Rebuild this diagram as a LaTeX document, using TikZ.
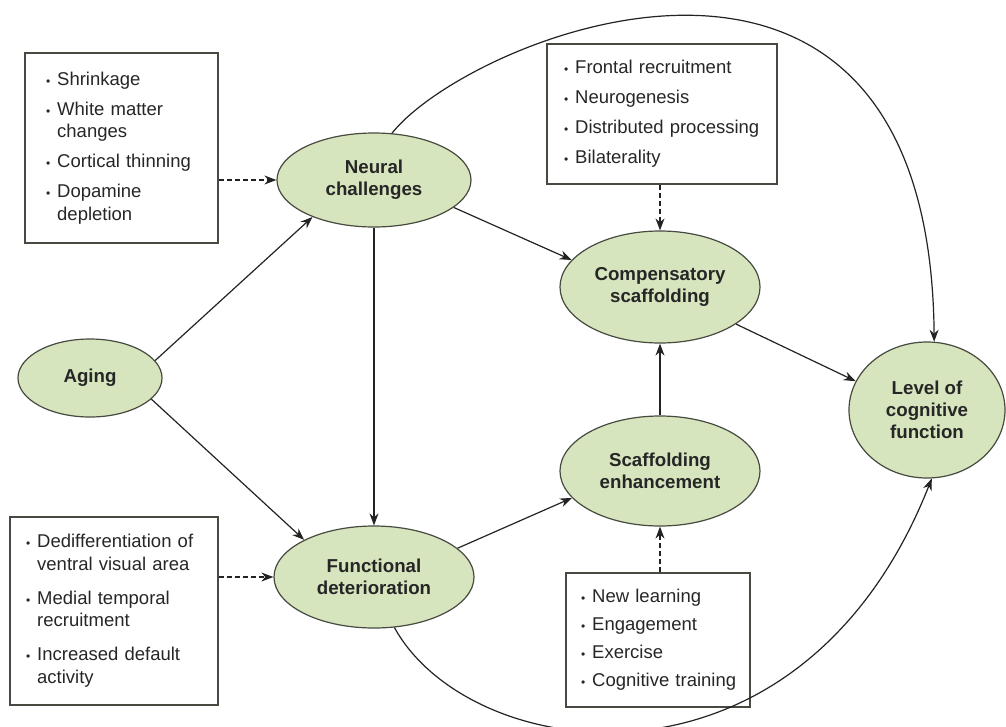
\documentclass[tikz,border=0pt]{standalone}
\usepackage{fontspec}
\setmainfont{Liberation Sans}
\usetikzlibrary{shapes.geometric,arrows.meta}
\definecolor{ellfill}{RGB}{214,229,189}
\definecolor{ellline}{RGB}{70,74,64}
\definecolor{ln}{RGB}{35,35,35}
\newcommand{\bul}{{\fontsize{12}{12}\selectfont\textbullet}}
\tikzset{
 ell/.style={ellipse, draw=ellline, fill=ellfill, line width=1.2pt, inner sep=0pt, align=center,
   font=\fontsize{18.7}{22}\selectfont\bfseries, text=black!85},
 listbox/.style={draw=ellline, line width=1.2pt, rectangle, inner ysep=0pt, align=left,
   font=\fontsize{18.5}{22.5}\selectfont, text=black!85},
 arr/.style={draw=ln, line width=1.2pt, -{Stealth[length=12pt,width=9pt]}},
 darr/.style={arr, dash pattern=on 5pt off 3pt},
}
\begin{document}
\begin{tikzpicture}[x=1pt,y=-1pt]
\useasboundingbox (0,0) rectangle (1006,726);
% ellipses
\node[ell, minimum width=144pt, minimum height=78pt] (aging) at (90,378) {Aging};
\node[ell, minimum width=194pt, minimum height=94pt] (neural) at (374,180) {Neural\\challenges};
\node[ell, minimum width=200pt, minimum height=102pt] (func) at (374,577) {Functional\\deterioration};
\node[ell, minimum width=200pt, minimum height=112pt] (comp) at (660,287) {Compensatory\\scaffolding};
\node[ell, minimum width=200pt, minimum height=110pt] (scaff) at (660,471) {Scaffolding\\enhancement};
\node[ell, minimum width=156pt, minimum height=136pt] (level) at (927,410) {Level of\\cognitive\\function};
% boxes
\node[listbox, minimum width=193pt, minimum height=190pt, inner xsep=21pt, text width=151pt] (box1) at (121.5,148)
 {\noindent\begin{tabular}{@{}l@{\hspace{7pt}}l@{}}
 \bul & Shrinkage\\[7.5pt]
 \bul & White matter\\
      & changes\\[7.5pt]
 \bul & Cortical thinning\\[7.5pt]
 \bul & Dopamine\\
      & depletion
 \end{tabular}};
\node[listbox, minimum width=230pt, minimum height=140pt, inner xsep=17pt, text width=196pt] (box2) at (662,114)
 {\noindent\begin{tabular}{@{}l@{\hspace{7pt}}l@{}}
 \bul & Frontal recruitment\\[7.5pt]
 \bul & Neurogenesis\\[7.5pt]
 \bul & Distributed processing\\[7.5pt]
 \bul & Bilaterality
 \end{tabular}};
\node[listbox, minimum width=208pt, minimum height=188pt, inner xsep=16pt, text width=176pt] (box3) at (114,611)
 {\noindent\begin{tabular}{@{}l@{\hspace{7pt}}l@{}}
 \bul & Dedifferentiation of\\
      & ventral visual area\\[11.5pt]
 \bul & Medial temporal\\
      & recruitment\\[11.5pt]
 \bul & Increased default\\
      & activity
 \end{tabular}};
\node[listbox, minimum width=184pt, minimum height=134pt, inner xsep=15pt, text width=154pt] (box4) at (658,640)
 {\noindent\begin{tabular}{@{}l@{\hspace{7pt}}l@{}}
 \bul & New learning\\[5.5pt]
 \bul & Engagement\\[5.5pt]
 \bul & Exercise\\[5.5pt]
 \bul & Cognitive training
 \end{tabular}};
% solid arrows
\draw[arr] (aging.15.5) -- (neural.211.7);
\draw[arr] (aging.341) -- (func.152);
\draw[arr] (neural.south) -- (func.north);
\draw[arr] (neural.341) -- (comp.163);
\draw[arr] (comp.334) -- (level.158);
\draw[arr] (scaff.north) -- (comp.south);
\draw[arr] (func.19) -- (scaff.197);
% dashed arrows
\draw[darr] (box1.east |- neural.west) -- (neural.west);
\draw[darr] (box3.east |- func.west) -- (func.west);
\draw[darr] (box2.south -| comp.north) -- (comp.north);
\draw[darr] (box4.north -| scaff.south) -- (scaff.south);
% long curves
\draw[arr] (neural.69) .. controls (470,35) and (930,-150) .. (level.84);
\draw[arr] (func.292) .. controls (470,765) and (800,812) .. (level.274);
\end{tikzpicture}
\end{document}
